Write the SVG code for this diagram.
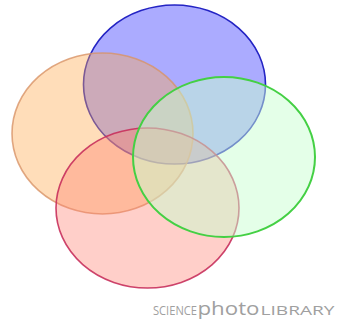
<svg xmlns="http://www.w3.org/2000/svg" width="337" height="322" viewBox="0 0 337 322">
<style>
.e{stroke-width:1.6}
.lbl{font-family:"Open Sans","Liberation Sans",sans-serif;fill:#a0a0a0}
</style>
<rect width="337" height="322" fill="#fff"/>
<g id="blue"><ellipse class="e" cx="174.5" cy="84.5" rx="91" ry="79.5" fill="#0000ff" fill-opacity="0.33" stroke="#2424c4"/></g>
<g id="orange"><ellipse class="e" cx="102.5" cy="133.5" rx="90.5" ry="80.5" fill="#ffaa50" fill-opacity="0.4" stroke="#d89468" stroke-opacity="0.8"/></g>
<g id="red"><ellipse class="e" cx="147.5" cy="208" rx="91.5" ry="80" fill="#ff8070" fill-opacity="0.38" stroke="#c8305c" stroke-opacity="0.9"/></g>
<g id="green"><ellipse cx="224" cy="157" rx="91" ry="80" fill="#c7ffd0" fill-opacity="0.49" stroke="#44d044" stroke-width="2"/></g>
<g id="connectors"/>
<g id="credit">
<text class="lbl" x="153" y="315" font-size="12" textLength="44" lengthAdjust="spacingAndGlyphs">SCIENCE</text>
<text class="lbl" x="197.5" y="315" font-size="19" fill="#909090" textLength="62" lengthAdjust="spacingAndGlyphs">photo</text>
<text class="lbl" x="260.5" y="315" font-size="12" textLength="74" lengthAdjust="spacingAndGlyphs">LIBRARY</text>
</g>
</svg>
